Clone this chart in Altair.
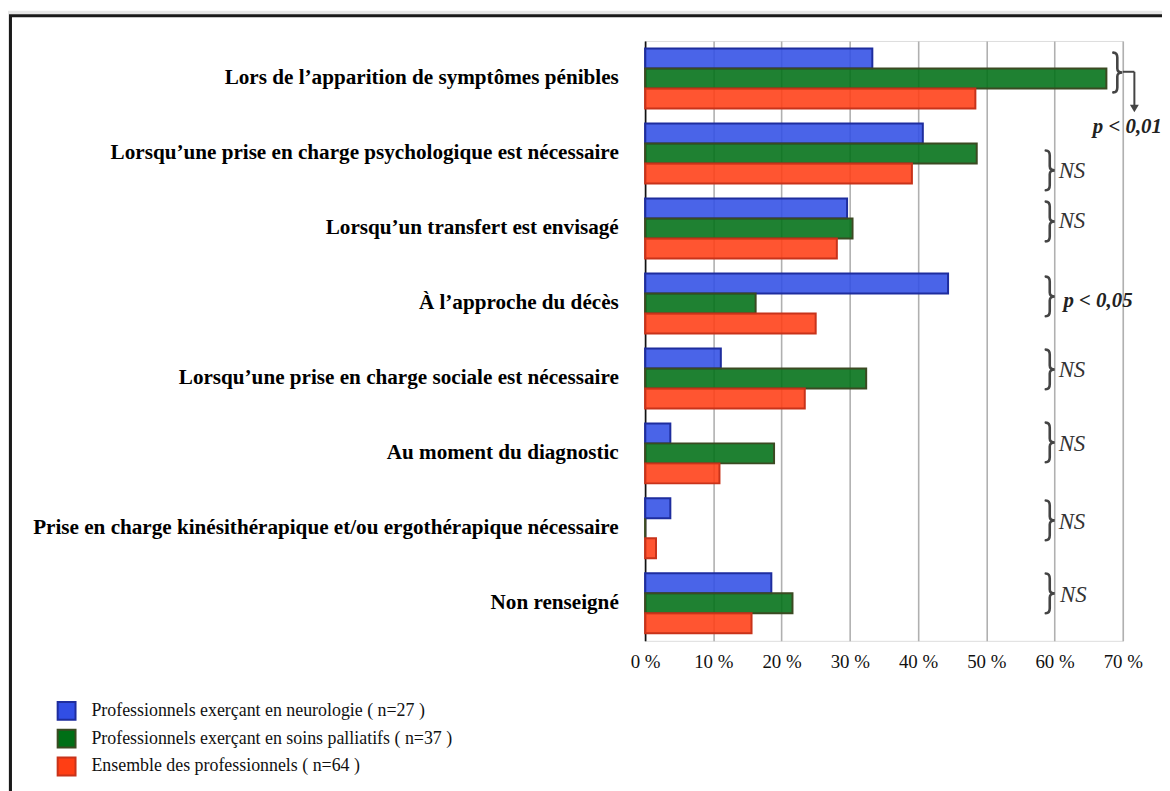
import altair as alt
import pandas as pd

# ---------------- data ----------------
categories = [
    "Lors de l\u2019apparition de symptômes pénibles",
    "Lorsqu\u2019une prise en charge psychologique est nécessaire",
    "Lorsqu\u2019un transfert est envisagé",
    "À l\u2019approche du décès",
    "Lorsqu\u2019une prise en charge sociale est nécessaire",
    "Au moment du diagnostic",
    "Prise en charge kinésithérapique et/ou ergothérapique nécessaire",
    "Non renseigné",
]
series_names = [
    "Professionnels exerçant en neurologie ( n=27 )",
    "Professionnels exerçant en soins palliatifs ( n=37 )",
    "Ensemble des professionnels ( n=64 )",
]
neurologie = [33.3, 40.7, 29.6, 44.4, 11.1, 3.7, 3.7, 18.5]
palliatifs = [67.6, 48.6, 30.4, 16.2, 32.4, 18.9, 0.0, 21.6]
ensemble = [48.4, 39.1, 28.1, 25.0, 23.4, 10.9, 1.6, 15.6]

fill_colors = ["#314ee5", "#006f16", "#ff3e14"]
stroke_colors = ["#1e2d9e", "#3b4a22", "#c8331a"]

tick_values = [0, 10, 20, 30, 40, 50, 60, 70]

# significance annotations
ann_text = ["p < 0,01", "NS", "NS", "p < 0,05", "NS", "NS", "NS", "NS"]
ann_bold = [True, False, False, True, False, False, False, False]
brace_x = [69.2, 59.3, 59.3, 59.3, 59.3, 59.3, 59.3, 59.3]
brace_dy = [-6, 17, -7, -7, -9, -11, -8, -10]
text_x = [65.6, 60.6, 60.6, 61.3, 60.6, 60.6, 60.6, 60.8]
text_dy = [49, 18, -7, -2, -8, -9, -6, -8]
arrow_x = [70.0, 71.7]

# ---------------- build table ----------------
rows = []
for i, c in enumerate(categories):
    for s, vals in zip(series_names, [neurologie, palliatifs, ensemble]):
        rows.append({"cat": c, "series": s, "value": vals[i]})
df = pd.DataFrame(rows)

W, H = 481, 604
PAD_L, PAD_T = 641.5, 30.5
TOTAL_W, TOTAL_H = 1162, 783
BRACE_HALF = 20.0  # half height of a brace, px

serif = "Liberation Serif"

y_enc = alt.Y("cat:N", sort=categories, title=None,
              scale=alt.Scale(paddingInner=0.2, paddingOuter=0.1),
              axis=alt.Axis(labelFont=serif, labelFontSize=21.3, labelFontWeight="bold",
                            labelColor="#000", labelPadding=27, labelLimit=800,
                            ticks=False, domain=True, domainColor="#111",
                            domainWidth=1.6, grid=False))
x_enc = alt.X("value:Q", title=None,
              scale=alt.Scale(domain=[0, 70], nice=False),
              axis=alt.Axis(values=tick_values, labelExpr="datum.value + ' %'",
                            labelFont=serif, labelFontSize=19, labelColor="#111",
                            labelPadding=12, labelFlush=False, ticks=False, domain=False,
                            grid=True, gridColor="#b0b0b0", gridWidth=1.6))

legend_kw = dict(title=None, orient="none", legendX=-592.5, legendY=664.5,
                 symbolType="square", symbolSize=324, symbolStrokeWidth=2,
                 symbolOpacity=1, labelFont=serif, labelFontSize=18,
                 labelColor="#111", labelOffset=15, rowPadding=2, padding=0,
                 labelLimit=600)

bars = alt.Chart(df).mark_bar(strokeWidth=2, fillOpacity=0.88).encode(
    x=x_enc,
    y=y_enc,
    yOffset=alt.YOffset("series:N", sort=series_names,
                        scale=alt.Scale(paddingInner=0, paddingOuter=0)),
    fill=alt.Fill("series:N", sort=series_names,
                  scale=alt.Scale(domain=series_names, range=fill_colors),
                  legend=alt.Legend(**legend_kw)),
    stroke=alt.Stroke("series:N", sort=series_names,
                      scale=alt.Scale(domain=series_names, range=stroke_colors),
                      legend=alt.Legend(**legend_kw)),
)

# outer frame (decoration)
frame_df = pd.DataFrame({"k": [0]})
shadow = alt.Chart(frame_df).mark_rect(fillOpacity=0, stroke="#e6e6e6", strokeWidth=4).encode(
    x=alt.value(-642), x2=alt.value(560), y=alt.value(-28.5), y2=alt.value(800))
frame = alt.Chart(frame_df).mark_rect(fillOpacity=0, stroke="#1a1a1a", strokeWidth=3).encode(
    x=alt.value(-639), x2=alt.value(560), y=alt.value(-25.5), y2=alt.value(800))

layers = [shadow, frame, bars]


def brace_path(shift_px):
    """Right-pointing curly brace, symbol units (1 unit = BRACE_HALF px)."""
    s = shift_px / BRACE_HALF
    def p(x, y):
        return f"{x:.3f} {y + s:.3f}"
    return (f"M {p(-0.2, -1)} Q {p(0, -1)} {p(0, -0.75)} L {p(0, -0.2)} "
            f"Q {p(0, 0)} {p(0.25, 0)} Q {p(0, 0)} {p(0, 0.2)} "
            f"L {p(0, 0.75)} Q {p(0, 1)} {p(-0.2, 1)}")


for i in range(len(categories)):
    one = pd.DataFrame({"cat": [categories[i]], "bx": [brace_x[i]],
                        "tx": [text_x[i]], "label": [ann_text[i]]})
    brace = alt.Chart(one).mark_point(shape=brace_path(brace_dy[i]), filled=False,
                                      stroke="#444", strokeWidth=2.6, opacity=1,
                                      size=(2 * BRACE_HALF) ** 2, strokeCap="round").encode(
        x=alt.X("bx:Q"), y=alt.Y("cat:N", sort=categories))
    lab = alt.Chart(one).mark_text(font=serif,
                                   fontSize=21 if ann_bold[i] else 23,
                                   fontStyle="italic",
                                   fontWeight="bold" if ann_bold[i] else "normal",
                                   color="#222" if ann_bold[i] else "#333",
                                   align="left", baseline="middle",
                                   dy=text_dy[i]).encode(
        x=alt.X("tx:Q"), y=alt.Y("cat:N", sort=categories), text="label:N")
    layers += [brace, lab]

arrow_df = pd.DataFrame({"x1": [arrow_x[0]], "x2": [arrow_x[1]], "xa": [arrow_x[1]]})
arrow_h = alt.Chart(arrow_df).mark_rule(color="#444", strokeWidth=2).encode(
    x="x1:Q", x2="x2:Q", y=alt.value(31))
arrow_v = alt.Chart(arrow_df).mark_rule(color="#444", strokeWidth=2).encode(
    x="xa:Q", y=alt.value(31), y2=alt.value(65))
arrow_head = alt.Chart(arrow_df).mark_point(shape="triangle-down", filled=True,
                                            color="#444", size=80, opacity=1).encode(
    x="xa:Q", y=alt.value(68))
layers += [arrow_h, arrow_v, arrow_head]

chart = alt.layer(*layers).properties(
    width=W, height=H,
    autosize=alt.AutoSizeParams(type="none"),
    padding={"left": PAD_L, "top": PAD_T,
             "right": TOTAL_W - PAD_L - W, "bottom": TOTAL_H - PAD_T - H},
).configure_view(stroke=None).configure(background="white")

chart.save("out.html", embed_options={"renderer": "svg", "actions": False})
